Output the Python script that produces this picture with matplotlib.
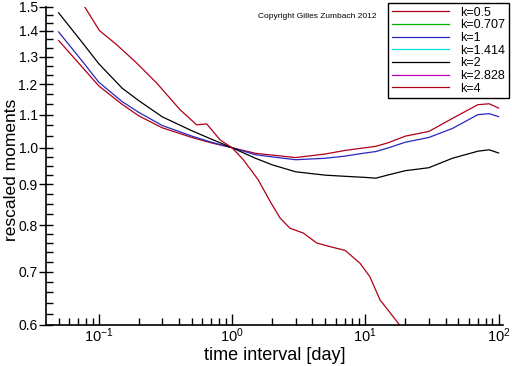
import numpy as np
import matplotlib
matplotlib.use("Agg")
import matplotlib.pyplot as plt
from matplotlib.ticker import FixedLocator, LogLocator, NullFormatter

plt.rcParams['font.family'] = ['Liberation Sans', 'DejaVu Sans']
plt.rcParams['mathtext.fontset'] = 'custom'
plt.rcParams['mathtext.rm'] = 'Liberation Sans'
plt.rcParams['mathtext.it'] = 'Liberation Sans:italic'
plt.rcParams['mathtext.bf'] = 'Liberation Sans:bold'

# time intervals [day] shared by the k=0.5, 1 and 2 curves
t = [0.05, 0.075, 0.1, 0.15, 0.2, 0.3, 0.5, 0.7, 1, 1.5, 2, 3, 5, 7,
     10, 12, 15, 20, 30, 45, 70, 85, 100]

m_k05 = [1.362, 1.262, 1.195, 1.133, 1.096, 1.059, 1.030, 1.014, 1.0, 0.984,
         0.979, 0.972, 0.982, 0.992, 1.000, 1.004, 1.015, 1.034, 1.048, 1.088,
         1.132, 1.135, 1.121]
m_k1 = [1.396, 1.284, 1.208, 1.142, 1.107, 1.066, 1.034, 1.016, 1.0, 0.980,
        0.974, 0.966, 0.970, 0.976, 0.985, 0.989, 1.000, 1.016, 1.030, 1.057,
        1.100, 1.103, 1.094]
m_k2 = [1.475, 1.355, 1.274, 1.187, 1.145, 1.093, 1.050, 1.025, 1.0, 0.970,
        0.952, 0.933, 0.924, 0.921, 0.918, 0.916, 0.925, 0.936, 0.944, 0.970,
        0.990, 0.994, 0.985]

# k=4 has its own sampling
t_k4 = [0.078, 0.101, 0.136, 0.193, 0.272, 0.407, 0.543, 0.646, 0.813, 1.0,
        1.216, 1.57, 1.93, 2.29, 2.72, 3.43, 4.32, 5.43, 7.05, 9.12, 10.8,
        12.9, 17.7, 19.5]
m_k4 = [1.503, 1.402, 1.346, 1.276, 1.205, 1.116, 1.068, 1.071, 1.023, 1.0,
        0.966, 0.912, 0.857, 0.817, 0.793, 0.782, 0.760, 0.752, 0.744, 0.717,
        0.690, 0.645, 0.603, 0.585]

labels = ["k=0.5", "k=0.707", "k=1", "k=1.414", "k=2", "k=2.828", "k=4"]
colors = ["#b00018", "#00b000", "#2828c0", "#00e0e0", "#000000", "#c000c0", "#b00018"]

# curves for k=0.707, 1.414 and 2.828 are not visible in the picture
series = [(t, m_k05), ([], []), (t, m_k1), ([], []), (t, m_k2), ([], []), (t_k4, m_k4)]

fig = plt.figure(figsize=(5.12, 3.66), dpi=100)
ax = fig.add_axes([46 / 512, 1 - 325 / 366, 457 / 512, 318 / 366])

for (xs, ys), lab, col in zip(series, labels, colors):
    ax.plot(xs, ys, color=col, lw=0.9, label=lab)

ax.set_xscale('log')
ax.set_yscale('log')
ax.set_xlim(0.0402, 108)
ax.set_ylim(0.6, 1.5)

yt = [0.6, 0.7, 0.8, 0.9, 1.0, 1.1, 1.2, 1.3, 1.4, 1.5]
ax.yaxis.set_major_locator(FixedLocator(yt))
ax.set_yticklabels(["%.1f" % v for v in yt])
ymin = list(np.arange(0.62, 0.8, 0.02)) + list(np.arange(0.825, 1.0, 0.025)) + \
    list(np.arange(1.0 + 1 / 30, 1.5, 1 / 30))
ax.yaxis.set_minor_locator(FixedLocator([v for v in ymin if round(v, 3) not in yt]))
ax.yaxis.set_minor_formatter(NullFormatter())

ax.xaxis.set_major_locator(LogLocator(base=10, numticks=10))
ax.xaxis.set_minor_locator(LogLocator(base=10, subs=np.arange(2, 10), numticks=20))
ax.xaxis.set_minor_formatter(NullFormatter())

ax.tick_params(axis='y', which='major', direction='inout', length=10, width=1, labelsize=10, pad=1)
ax.tick_params(axis='y', which='minor', direction='in', length=5, width=1)
ax.tick_params(axis='x', which='major', direction='in', length=8, width=1, labelsize=10.5, pad=1)
ax.tick_params(axis='x', which='minor', direction='in', length=5, width=1)

for s in ['top', 'right']:
    ax.spines[s].set_visible(False)
for s in ['left', 'bottom']:
    ax.spines[s].set_linewidth(1.2)

ax.set_xlabel("time interval [day]", fontsize=13)
ax.xaxis.set_label_coords(0.5, -(355 - 325) / 318, transform=ax.transAxes)
ax.set_ylabel("rescaled moments", fontsize=12.5)
ax.yaxis.set_label_coords(-(46 - 12) / 457, (325 - 170) / 318, transform=ax.transAxes)
ax.xaxis.label.set_va('center')
ax.yaxis.label.set_va('center')

fig.text(317 / 512, 1 - 17 / 366, "Copyright Gilles Zumbach 2012", fontsize=6,
         ha='center', va='center')

leg = ax.legend(loc='upper right', bbox_to_anchor=(509 / 512, 1 - 3 / 366),
                bbox_transform=fig.transFigure, fontsize=9, frameon=True,
                fancybox=False, handlelength=4.6, handletextpad=0.9,
                labelspacing=0.05, borderpad=0.3, borderaxespad=0)
leg.get_frame().set_edgecolor('black')
leg.get_frame().set_linewidth(1.0)
leg.get_frame().set_alpha(1)

fig.savefig("out.png", dpi=100)
